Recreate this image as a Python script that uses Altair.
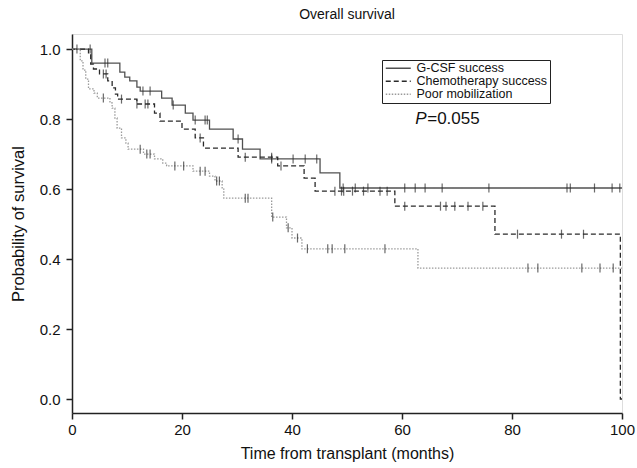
import altair as alt
import pandas as pd

FONT = "Liberation Sans"

groups = ["G-CSF success", "Chemotherapy success", "Poor mobilization"]

# Kaplan-Meier step points (time in months, survival probability)
gcsf_t = [0, 3.6, 8.7, 9.6, 10.5, 11.8, 12.4, 16.3, 18.2, 20.6, 22.0, 25.0, 29.3, 31.0, 34.2, 45.1, 48.7, 100]
gcsf_s = [1.0, 0.96, 0.934, 0.92, 0.909, 0.891, 0.88, 0.86, 0.84, 0.817, 0.797, 0.771, 0.743, 0.714, 0.686, 0.646, 0.603, 0.603]
gcsf_cens = [0.9, 3.3, 6.0, 6.5, 12.9, 14.2, 18.4, 22.4, 24.2, 24.6, 30.2, 36.3, 40.2, 42.4, 44.5, 49.3,
             51.5, 53.8, 60.5, 62.4, 64.2, 67.3, 75.8, 90.0, 90.6, 95.0, 98.2, 99.6]

chemo_t = [0, 3.0, 3.4, 3.9, 5.0, 6.5, 7.3, 7.9, 8.3, 11.8, 15.0, 16.0, 20.0, 22.4, 23.9, 30.2, 37.4, 42.2,
           44.2, 58.7, 76.9, 99.7, 100]
chemo_s = [1.0, 0.986, 0.957, 0.943, 0.929, 0.909, 0.889, 0.871, 0.857, 0.843, 0.817, 0.794, 0.771, 0.746,
           0.717, 0.691, 0.666, 0.631, 0.594, 0.551, 0.471, 0.0, 0.0]
chemo_cens = [5.7, 6.2, 9.0, 11.8, 13.3, 13.8, 23.3, 31.5, 36.3, 38.0, 47.8, 49.0, 49.4, 51.0, 53.0, 56.0,
              57.3, 60.5, 67.0, 68.0, 69.6, 72.0, 74.7, 81.0, 89.0, 93.0]

poor_t = [0, 1.5, 2.0, 2.5, 3.0, 4.0, 4.6, 6.9, 7.3, 7.8, 8.2, 9.0, 9.8, 10.2, 13.0, 15.0, 16.5, 17.2, 22.0,
          25.0, 26.0, 27.3, 27.6, 36.3, 39.0, 40.0, 41.8, 62.9, 100]
poor_s = [1.0, 0.966, 0.94, 0.914, 0.886, 0.874, 0.86, 0.846, 0.831, 0.803, 0.774, 0.746, 0.731, 0.714, 0.70,
          0.686, 0.674, 0.666, 0.651, 0.637, 0.623, 0.60, 0.574, 0.52, 0.489, 0.46, 0.429, 0.374, 0.374]
poor_cens = [5.7, 12.4, 13.6, 14.2, 18.7, 20.3, 23.3, 24.2, 26.3, 26.8, 31.5, 32.0, 36.5, 39.3, 41.0, 42.8,
             46.5, 47.3, 49.6, 56.9, 82.9, 84.7, 92.7, 96.0, 98.4]

x_ticks = [0, 20, 40, 60, 80, 100]
y_ticks = [0.0, 0.2, 0.4, 0.6, 0.8, 1.0]

title_text = "Overall survival"
x_title = "Time from transplant (months)"
y_title = "Probability of survival"
p_label = "P"
p_value = "=0.055"
p_pos = (62.4, 0.80)


def step_value(ts, ss, t):
    v = ss[0]
    for ti, si in zip(ts, ss):
        if ti <= t:
            v = si
    return v


series = [(groups[0], gcsf_t, gcsf_s, gcsf_cens),
          (groups[1], chemo_t, chemo_s, chemo_cens),
          (groups[2], poor_t, poor_s, poor_cens)]

line_rows, tick_rows = [], []
for g, ts, ss, cs in series:
    for i, (t, s) in enumerate(zip(ts, ss)):
        line_rows.append({"group": g, "t": t, "s": s, "order": i})
    for c in cs:
        tick_rows.append({"group": g, "t": c, "s": step_value(ts, ss, c)})

line_df = pd.DataFrame(line_rows)
tick_df = pd.DataFrame(tick_rows)

xscale = alt.Scale(domain=[0, 100], nice=False, zero=False)
yscale = alt.Scale(domain=[-0.04, 1.043], nice=False, zero=False)

xaxis = alt.Axis(values=x_ticks, title=x_title, grid=False, labelFontSize=15, titleFontSize=16,
                 labelFont=FONT, titleFont=FONT, titleFontWeight="normal", labelColor="#111",
                 titleColor="#111", domainColor="#222", domainWidth=1.5, tickColor="#222",
                 tickWidth=1.5, tickSize=6, labelPadding=3, titlePadding=8, labelFlush=False)
yaxis = alt.Axis(values=y_ticks, format=".1f", title=y_title, grid=False, labelFontSize=15, titleFontSize=16.5,
                 labelFont=FONT, titleFont=FONT, titleFontWeight="normal", labelColor="#111",
                 titleColor="#111", domainColor="#222", domainWidth=1.5, tickColor="#222",
                 tickWidth=1.5, tickSize=6, labelPadding=6, titlePadding=13)

legend = alt.Legend(title=None, orient="none", legendX=310, legendY=26, strokeColor="#222",
                    padding=2, symbolType="M-2.5,0H2.5", symbolSize=100, symbolStrokeWidth=1.3,
                    symbolOffset=8, labelFontSize=12.5, labelFont=FONT, labelColor="#111",
                    rowPadding=0, labelOffset=12, fillColor="white")

color_scale = alt.Scale(domain=groups, range=["#505050", "#2a2a2a", "#9a9a9a"])
dash_scale = alt.Scale(domain=groups, range=[[1, 0], [5, 3], [1.5, 1.5]])

lines = alt.Chart(line_df).mark_line(interpolate="step-after", strokeWidth=1.3).encode(
    x=alt.X("t:Q", scale=xscale, axis=xaxis),
    y=alt.Y("s:Q", scale=yscale, axis=yaxis),
    color=alt.Color("group:N", scale=color_scale, legend=legend),
    strokeDash=alt.StrokeDash("group:N", scale=dash_scale, legend=legend),
    order="order:Q",
)

ticks = alt.Chart(tick_df).mark_tick(orient="vertical", size=9, thickness=1.2, color="#2a2a2a").encode(
    x=alt.X("t:Q", scale=xscale),
    y=alt.Y("s:Q", scale=yscale),
)

ptext_df = pd.DataFrame({"t": [p_pos[0]], "s": [p_pos[1]], "p": [p_label], "v": [p_value]})
p_italic = alt.Chart(ptext_df).mark_text(align="left", baseline="middle", fontSize=17, font=FONT,
                                         fontStyle="italic", color="#111").encode(
    x=alt.X("t:Q", scale=xscale), y=alt.Y("s:Q", scale=yscale), text="p:N")
p_rest = alt.Chart(ptext_df).mark_text(align="left", baseline="middle", fontSize=17, font=FONT,
                                       dx=12, color="#111").encode(
    x=alt.X("t:Q", scale=xscale), y=alt.Y("s:Q", scale=yscale), text="v:N")

chart = alt.layer(lines, ticks, p_italic, p_rest).properties(
    width=550, height=379,
    title=alt.TitleParams(title_text, fontSize=14, font=FONT, fontWeight="normal", anchor="middle",
                          offset=12, color="#111"),
    autosize=alt.AutoSizeParams(type="none"),
    padding={"left": 72, "top": 34, "right": 15, "bottom": 55},
).configure_view(stroke="#888", strokeWidth=1.5).configure(background="white")

chart.save("out.html", embed_options={"renderer": "svg", "actions": False})
